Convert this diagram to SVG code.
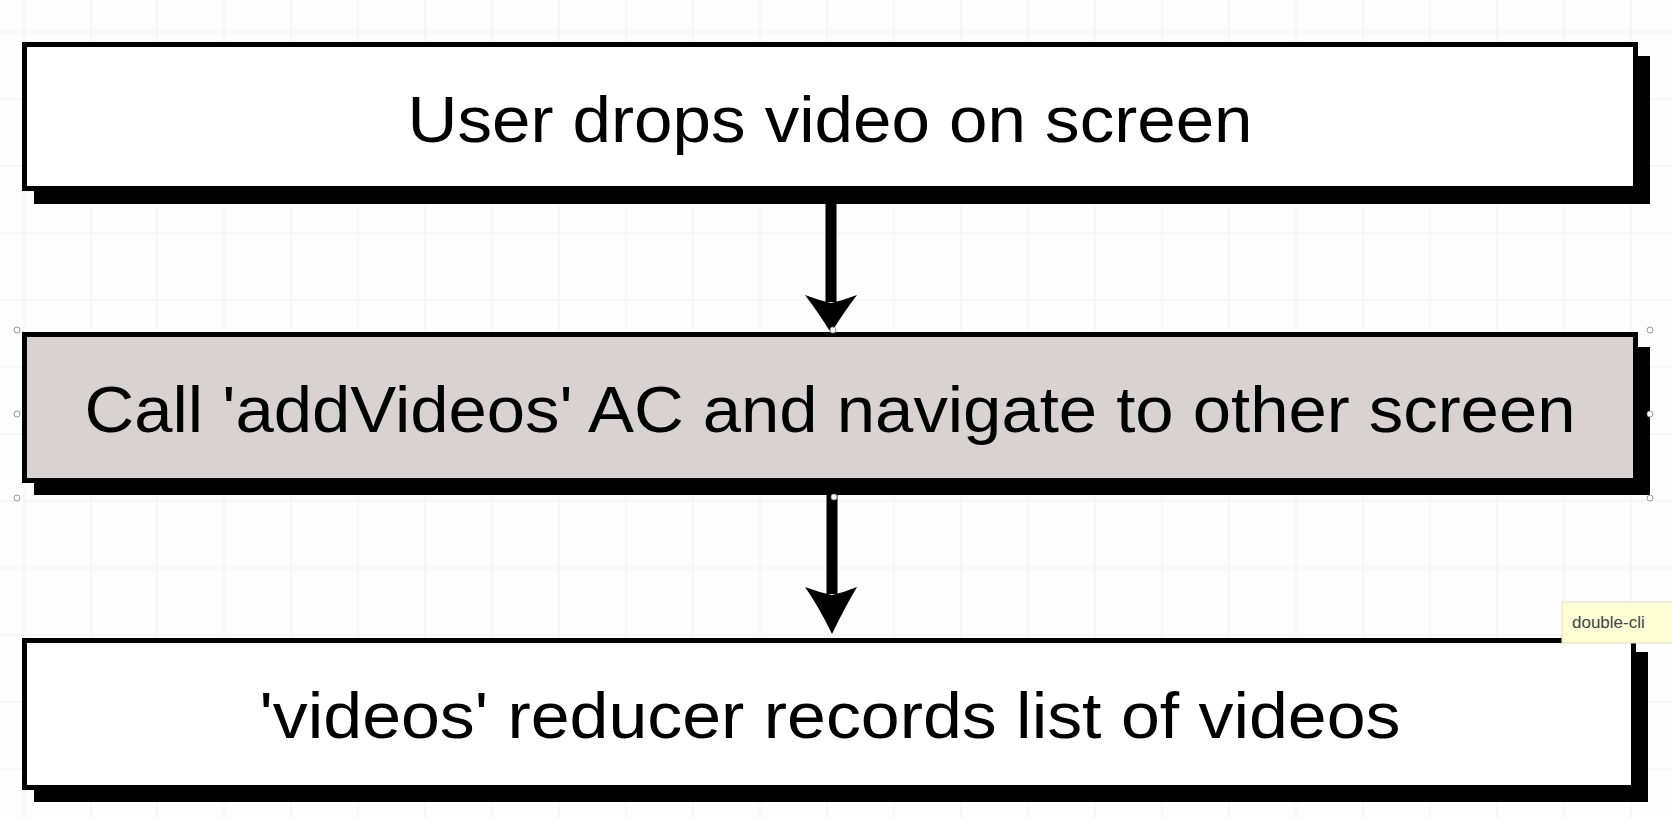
<svg xmlns="http://www.w3.org/2000/svg" width="1672" height="818" viewBox="0 0 1672 818">
<style>
.grid line{stroke:#f1f1f1;stroke-width:1}
.shadow{fill:#000}
.box{stroke:#000;stroke-width:5}
.white{fill:#fff}
.gray{fill:#d9d2d2}
.label{font-family:"Liberation Sans",Arial,sans-serif;font-size:64px;fill:#000;text-anchor:middle}
.shaft{stroke:#000;stroke-width:11}
.head{fill:#000}
.handle{fill:#fff;stroke:#999;stroke-width:1}
.tip{font-family:"Liberation Sans",Arial,sans-serif;font-size:17px;fill:#444}
</style>
<rect x="0" y="0" width="1672" height="818" fill="#fdfdfd"/>
<g class="grid">
<line x1="24" y1="0" x2="24" y2="818"/><line x1="91" y1="0" x2="91" y2="818"/><line x1="157" y1="0" x2="157" y2="818"/><line x1="224" y1="0" x2="224" y2="818"/><line x1="291" y1="0" x2="291" y2="818"/><line x1="358" y1="0" x2="358" y2="818"/><line x1="425" y1="0" x2="425" y2="818"/><line x1="492" y1="0" x2="492" y2="818"/><line x1="559" y1="0" x2="559" y2="818"/><line x1="626" y1="0" x2="626" y2="818"/><line x1="693" y1="0" x2="693" y2="818"/><line x1="760" y1="0" x2="760" y2="818"/><line x1="827" y1="0" x2="827" y2="818"/><line x1="894" y1="0" x2="894" y2="818"/><line x1="961" y1="0" x2="961" y2="818"/><line x1="1028" y1="0" x2="1028" y2="818"/><line x1="1095" y1="0" x2="1095" y2="818"/><line x1="1162" y1="0" x2="1162" y2="818"/><line x1="1229" y1="0" x2="1229" y2="818"/><line x1="1296" y1="0" x2="1296" y2="818"/><line x1="1363" y1="0" x2="1363" y2="818"/><line x1="1430" y1="0" x2="1430" y2="818"/><line x1="1497" y1="0" x2="1497" y2="818"/><line x1="1564" y1="0" x2="1564" y2="818"/><line x1="1631" y1="0" x2="1631" y2="818"/>
<line x1="0" y1="32" x2="1672" y2="32"/><line x1="0" y1="99" x2="1672" y2="99"/><line x1="0" y1="166" x2="1672" y2="166"/><line x1="0" y1="233" x2="1672" y2="233"/><line x1="0" y1="300" x2="1672" y2="300"/><line x1="0" y1="367" x2="1672" y2="367"/><line x1="0" y1="434" x2="1672" y2="434"/><line x1="0" y1="501" x2="1672" y2="501"/><line x1="0" y1="568" x2="1672" y2="568"/><line x1="0" y1="635" x2="1672" y2="635"/><line x1="0" y1="702" x2="1672" y2="702"/><line x1="0" y1="769" x2="1672" y2="769"/>
</g>
<g id="connectors">
<line class="shaft" x1="831" y1="190" x2="831" y2="302"/>
<path class="head" d="M805,295 Q818,300 831,303 Q844,300 857,295 Q844,312 831,333 Q818,312 805,295 Z"/>
<line class="shaft" x1="832" y1="482" x2="832" y2="594"/>
<path class="head" d="M805,587 Q818,592 832,595 Q845,592 857,587 Q845,607 832,634 Q819,607 805,587 Z"/>
</g>
<g id="node-drop">
<rect class="shadow" x="34" y="56" width="1616" height="148"/>
<rect class="box white" x="24.5" y="44.5" width="1611" height="144"/>
<text class="label" x="830" y="142" textLength="845" lengthAdjust="spacingAndGlyphs">User drops video on screen</text>
</g>
<g id="node-call">
<rect class="shadow" x="34" y="347" width="1616" height="148"/>
<rect class="box gray" x="24.5" y="334.5" width="1611" height="146"/>
<text class="label" x="830" y="432" textLength="1491" lengthAdjust="spacingAndGlyphs">Call 'addVideos' AC and navigate to other screen</text>
<circle class="handle" cx="17" cy="330" r="3"/><circle class="handle" cx="17" cy="414" r="3"/><circle class="handle" cx="17" cy="498" r="3"/>
<circle class="handle" cx="1650" cy="330" r="3"/><circle class="handle" cx="1650" cy="414" r="3"/><circle class="handle" cx="1650" cy="498" r="3"/>
<circle class="handle" cx="833" cy="330" r="3"/><circle class="handle" cx="834" cy="497" r="3"/>
</g>
<g id="node-reducer">
<rect class="shadow" x="34" y="652" width="1614" height="150"/>
<rect class="box white" x="24.5" y="640.5" width="1609" height="147"/>
<text class="label" x="830" y="738" textLength="1141" lengthAdjust="spacingAndGlyphs">'videos' reducer records list of videos</text>
</g>
<g id="tooltip">
<rect x="1562" y="602" width="115" height="41" fill="#fdfdd6" stroke="#e2e2c0" stroke-width="1"/>
<text class="tip" x="1572" y="628">double-cli</text>
</g>
</svg>
